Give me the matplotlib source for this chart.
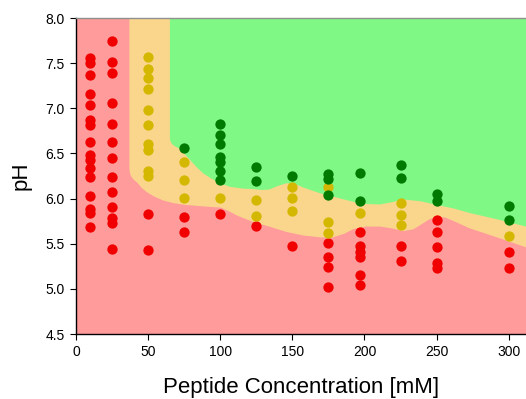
import matplotlib
matplotlib.use("Agg")
import matplotlib.pyplot as plt

plt.rcParams['font.family'] = ['Liberation Sans', 'DejaVu Sans']

# ---- data points (x = peptide concentration, y = pH) ----
red_x = [10]*16 + [25]*13 + [50]*2 + [75]*2 + [100] + [125] + [150] + [175]*4 + [197]*6 + [225]*2 + [250]*5 + [300]*2
red_y = [7.56, 7.50, 7.37, 7.16, 7.04, 6.87, 6.82, 6.63, 6.48, 6.43, 6.34, 6.24, 6.03, 5.88, 5.84, 5.69,
         7.75, 7.51, 7.39, 7.06, 6.83, 6.63, 6.45, 6.24, 6.07, 5.91, 5.78, 5.73, 5.44,
         5.83, 5.43,
         5.80, 5.63,
         5.83,
         5.70,
         5.48,
         5.51, 5.35, 5.24, 5.02,
         5.63, 5.47, 5.41, 5.35, 5.15, 5.04,
         5.47, 5.31,
         5.76, 5.63, 5.46, 5.29, 5.23,
         5.41, 5.23]

yellow_x = [50]*10 + [75]*3 + [100] + [125]*2 + [150]*3 + [175]*3 + [197] + [225]*3 + [300]
yellow_y = [7.57, 7.44, 7.34, 7.21, 6.98, 6.82, 6.60, 6.54, 6.30, 6.25,
            6.41, 6.21, 6.01,
            6.01,
            5.98, 5.81,
            6.13, 6.01, 5.86,
            6.13, 5.74, 5.62,
            5.84,
            5.95, 5.82, 5.71,
            5.59]

green_x = [75] + [100]*7 + [125]*2 + [150] + [175]*3 + [197]*2 + [225]*2 + [250]*2 + [300]*2
green_y = [6.56,
           6.83, 6.70, 6.60, 6.46, 6.41, 6.30, 6.21,
           6.35, 6.19,
           6.25,
           6.27, 6.22, 6.04,
           6.28, 5.97,
           6.37, 6.23,
           6.05, 5.97,
           5.92, 5.76]

# ---- region boundaries ----
# lower edge of the yellow (transition) band
low_x = [37.0, 37.0, 37.3, 38.1, 40.0, 42.3, 45.5, 49.2, 54.5, 60.3, 67.5, 75.5, 87, 100.5, 106, 112, 123, 134, 146, 158, 170, 178, 186, 192, 201, 211, 219, 227, 234, 239, 245, 250, 256, 262, 273, 292, 312]
low_y = [8.0, 6.34, 6.29, 6.25, 6.21, 6.18, 6.12, 6.07, 6.02, 5.98, 5.95, 5.93, 5.915, 5.90, 5.86, 5.81, 5.74, 5.69, 5.63, 5.59, 5.57, 5.57, 5.61, 5.66, 5.69, 5.69, 5.67, 5.64, 5.66, 5.71, 5.77, 5.80, 5.79, 5.75, 5.67, 5.57, 5.46]
# lower edge of the green (upper) region
up_x = [65.1, 65.1, 65.6, 66.8, 69.0, 72.1, 75.5, 79.0, 83.5, 88.2, 94, 99.8, 106.7, 116, 123, 129, 134, 140, 146, 152, 158, 169, 181, 192, 201, 211, 219, 227, 239, 250, 262, 273, 292, 312]
up_y = [8.0, 6.66, 6.63, 6.60, 6.575, 6.55, 6.49, 6.43, 6.35, 6.28, 6.22, 6.17, 6.13, 6.11, 6.105, 6.095, 6.10, 6.14, 6.17, 6.16, 6.12, 6.06, 6.01, 5.965, 5.94, 5.935, 5.96, 5.99, 5.97, 5.93, 5.89, 5.84, 5.77, 5.69]

x_ticks = [0, 50, 100, 150, 200, 250, 300]
y_ticks = [4.5, 5.0, 5.5, 6.0, 6.5, 7.0, 7.5, 8.0]

fig = plt.figure(figsize=(5.26, 3.99), dpi=100)
ax = fig.add_axes([76/526, 1 - 334/399, 1 - 76/526, (334 - 18)/399])

XMAX = 312
ax.set_xlim(0, XMAX)
ax.set_ylim(4.5, 8.0)
ax.set_facecolor('#FF9B9B')

ax.fill(low_x + [XMAX, XMAX], low_y + [low_y[-1], 8.0], color='#FAD68C', lw=0, zorder=1)
ax.fill(up_x + [XMAX, XMAX], up_y + [up_y[-1], 8.0], color='#7FF886', lw=0, zorder=2)

ms = 55
ax.scatter(red_x, red_y, s=ms, color='#F00000', lw=0, zorder=3)
ax.scatter(yellow_x, yellow_y, s=ms, color='#D4B800', lw=0, zorder=4)
ax.scatter(green_x, green_y, s=ms, color='#007A00', lw=0, zorder=5)

ax.set_xticks(x_ticks)
ax.set_xticklabels([str(v) for v in x_ticks])
ax.set_yticks(y_ticks)
ax.set_yticklabels([f"{v:.1f}" for v in y_ticks])
ax.tick_params(direction='out', length=4, width=0.8, labelsize=10, colors='black', pad=4)

for s in ['left', 'bottom']:
    ax.spines[s].set_color('black')
    ax.spines[s].set_linewidth(1.0)
ax.spines['top'].set_color('#909090')
ax.spines['top'].set_linewidth(1.0)
ax.spines['right'].set_visible(False)

ax.set_xlabel('Peptide Concentration [mM]', fontsize=16, labelpad=13)
ax.set_ylabel('pH', fontsize=16, labelpad=10)

fig.savefig('out.png', dpi=100)
